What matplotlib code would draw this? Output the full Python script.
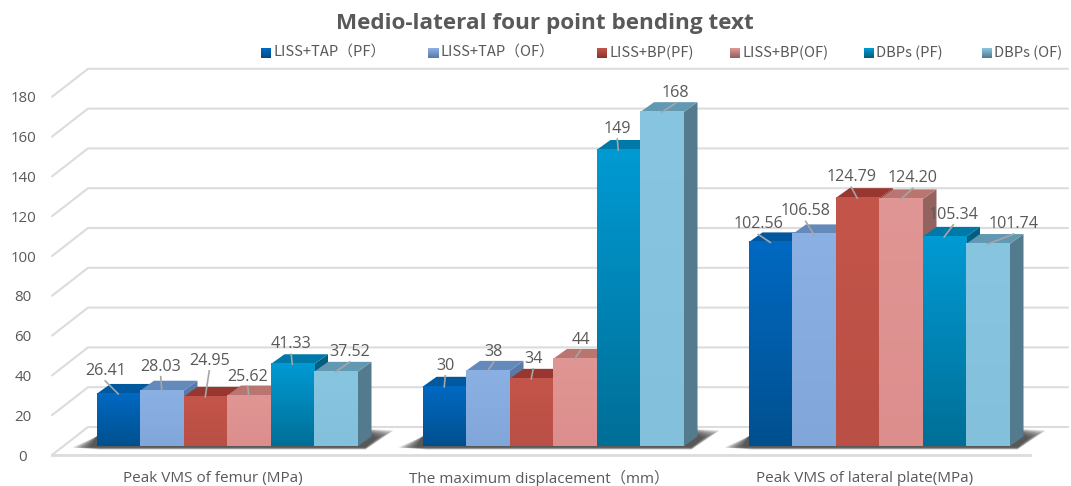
import numpy as np
import matplotlib
matplotlib.use("Agg")
import matplotlib.pyplot as plt
from matplotlib.colors import to_rgb
from matplotlib.patches import Polygon

# Measurements per group, one list per implant configuration
categories = ["Peak VMS of femur (MPa)", "The maximum displacement（mm）", "Peak VMS of lateral plate(MPa)"]
series_names = ["LISS+TAP（PF）", "LISS+TAP（OF）", "LISS+BP(PF)", "LISS+BP(OF)", "DBPs (PF)", "DBPs (OF)"]
liss_tap_pf = [26.41, 30, 102.56]
liss_tap_of = [28.03, 38, 106.58]
liss_bp_pf = [24.95, 34, 124.79]
liss_bp_of = [25.62, 44, 124.20]
dbps_pf = [41.33, 149, 105.34]
dbps_of = [37.52, 168, 101.74]
value_labels = [
    ["26.41", "30", "102.56"], ["28.03", "38", "106.58"], ["24.95", "34", "124.79"],
    ["25.62", "44", "124.20"], ["41.33", "149", "105.34"], ["37.52", "168", "101.74"],
]
y_ticks = list(range(0, 200, 20))
series = [liss_tap_pf, liss_tap_of, liss_bp_pf, liss_bp_of, dbps_pf, dbps_of]

# Face colours: gradient top, gradient bottom, top facet, side facet
styles = [
    ("#0069c2", "#00508f", "#00589f", "#004a86"),
    ("#8ab0e4", "#80a6da", "#6489bb", "#587aa8"),
    ("#c4554a", "#b94f45", "#97372f", "#88352e"),
    ("#e09694", "#dc8e8d", "#b97671", "#92635f"),
    ("#009ad3", "#006f97", "#0079a8", "#005f80"),
    ("#88c5e0", "#82c0db", "#6198b2", "#547a8d"),
]

# Canvas scale: pixels per group and per value unit
GROUP_PX, VALUE_PX = 326.0, 1.99
ORIGIN_X, ORIGIN_Y = 227.0, 446.5
BAR_PX = 43.5
DEPTH_X, DEPTH_Y = 14 / GROUP_PX, 10 / VALUE_PX

def hpx(n):
    return n / GROUP_PX

def vpx(n):
    return n / VALUE_PX

fig = plt.figure(figsize=(10.71, 4.86), dpi=100, facecolor="white")
ax = fig.add_axes([0, 0, 1, 1])
ax.set_xlim(-ORIGIN_X / GROUP_PX, (1071 - ORIGIN_X) / GROUP_PX)
ax.set_ylim((ORIGIN_Y - 486) / VALUE_PX, ORIGIN_Y / VALUE_PX)
ax.axis("off")

text_grey = "#595959"
body_font = ["Open Sans", "Noto Sans CJK SC"]
narrow_font = ["Liberation Sans Narrow", "Noto Sans CJK SC"]

# Walls: a slanted stub from the front edge, then the horizontal back line
front_x, back_x, right_x = hpx(52 - ORIGIN_X), hpx(88 - ORIGIN_X), hpx(1068 - ORIGIN_X)
FRONT_DY, BACK_DY = vpx(-8.5), vpx(19.5)
for t in y_ticks:
    ax.plot([front_x, back_x, right_x], [t + FRONT_DY, t + BACK_DY, t + BACK_DY],
            color="#dcdcdc", lw=1.5, zorder=1, solid_capstyle="round", solid_joinstyle="round")
    ax.text(hpx(23 - ORIGIN_X), t + FRONT_DY - vpx(2), str(t), ha="center", va="center",
            fontsize=10.8, color=text_grey, family=body_font, zorder=10)
ax.plot([front_x, hpx(1030 - ORIGIN_X)], [FRONT_DY, FRONT_DY], color="#dcdcdc", lw=2, zorder=1)

# Soft floor shadow under each group of bars
for g in range(len(categories)):
    left = g + hpx(-130.5)
    right = g + hpx(130.5)
    for s in np.linspace(1, 0.25, 9):
        pts = [
            (left - hpx(24 * s), vpx(-1)),
            (left + hpx(4), vpx(-3 * s)),
            (right + hpx(8), vpx(-3 * s)),
            (right + hpx(14 + 22 * s), vpx(6 + 10 * s)),
            (right, vpx(18)),
            (left, vpx(10)),
        ]
        ax.add_patch(Polygon(pts, closed=True, fc="#303030", ec="none", alpha=0.16, zorder=2))

# Bars, drawn left to right so every front face covers its neighbour's side
z = 3.0
for g in range(len(categories)):
    for i, values in enumerate(series):
        v = values[g]
        top_c, bottom_c, top_facet, side_facet = styles[i]
        x0 = g + hpx((i - 3) * BAR_PX)
        x1 = x0 + hpx(BAR_PX)
        ax.add_patch(Polygon([(x1, 0), (x1 + DEPTH_X, DEPTH_Y), (x1 + DEPTH_X, v + DEPTH_Y), (x1, v)],
                             closed=True, fc=side_facet, ec="none", zorder=z))
        ramp = np.linspace(to_rgb(top_c), to_rgb(bottom_c), 64).reshape(64, 1, 3)
        ax.imshow(ramp, extent=(x0, x1, 0, v), aspect="auto", origin="upper", zorder=z + 0.2,
                  interpolation="bilinear")
        ax.add_patch(Polygon([(x0, v), (x0 + DEPTH_X, v + DEPTH_Y), (x1 + DEPTH_X, v + DEPTH_Y), (x1, v)],
                             closed=True, fc=top_facet, ec="none", zorder=z + 0.1))
        z += 0.3
ax.set_xlim(-ORIGIN_X / GROUP_PX, (1071 - ORIGIN_X) / GROUP_PX)
ax.set_ylim((ORIGIN_Y - 486) / VALUE_PX, ORIGIN_Y / VALUE_PX)

# Value labels: offset (right, up) in pixels from the centre of the bar's front top edge
label_offsets = [
    [(-13, 26), (1, 24), (-12, 21)],
    [(-1, 27), (6, 22), (-8, 26)],
    [(4, 39), (2, 23), (-6, 24)],
    [(-1, 22), (6, 22), (12, 24)],
    [(-1, 23), (-1, 24), (9, 25)],
    [(14, 23), (14, 22), (26, 23)],
]
for i, values in enumerate(series):
    for g, v in enumerate(values):
        cx = g + hpx((i - 2.5) * BAR_PX)
        dx, dy = label_offsets[i][g]
        lx, ly = cx + hpx(dx), v + vpx(dy)
        ax.plot([lx, cx], [ly - vpx(13), v], color="#a6a6a6", lw=1.2, zorder=9)
        ax.text(lx, ly - vpx(3), value_labels[i][g], ha="center", va="center", fontsize=11.6,
                color=text_grey, family=body_font, zorder=10)

# Category captions under the floor
for g, name in enumerate(categories):
    ax.text(g + hpx(-14), vpx(ORIGIN_Y - 478), name, ha="center", va="center", fontsize=11,
            color=text_grey, family=body_font, zorder=10)

ax.text(hpx(544.5 - ORIGIN_X), vpx(ORIGIN_Y - 24), "Medio-lateral four point bending text", ha="center",
        va="center", fontsize=16.2, fontweight="bold", color=text_grey, family="Open Sans", zorder=10)

# Legend keys with their uneven spacing along the top
legend_x = [266, 433, 602, 735, 869, 987]
for key_x, name, style in zip(legend_x, series_names, styles):
    y_mid = ORIGIN_Y - 53
    ramp = np.linspace(to_rgb(style[0]), to_rgb(style[3]), 16).reshape(16, 1, 3)
    ax.imshow(ramp, extent=(hpx(key_x - 5 - ORIGIN_X), hpx(key_x + 5 - ORIGIN_X),
                            vpx(y_mid - 5), vpx(y_mid + 5)), aspect="auto", origin="upper", zorder=10)
    ax.text(hpx(key_x + 7 - ORIGIN_X), vpx(y_mid), name, ha="left", va="center", fontsize=10.6,
            color=text_grey, family=narrow_font, zorder=10)
ax.set_xlim(-ORIGIN_X / GROUP_PX, (1071 - ORIGIN_X) / GROUP_PX)
ax.set_ylim((ORIGIN_Y - 486) / VALUE_PX, ORIGIN_Y / VALUE_PX)

fig.savefig("out.png", dpi=100, facecolor="white")
